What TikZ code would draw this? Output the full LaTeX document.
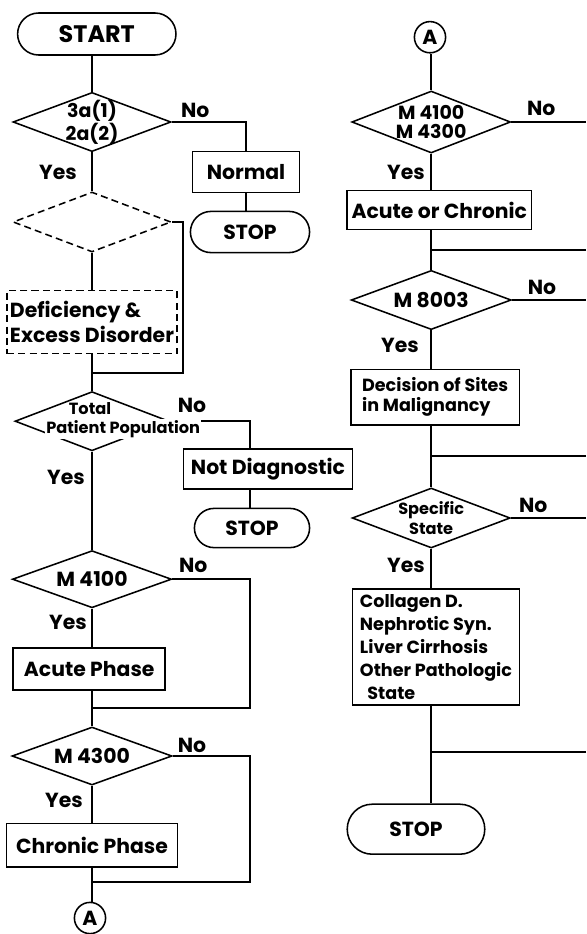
\documentclass[tikz,border=0pt]{standalone}
\usepackage{fontspec}
\setmainfont{Poppins}
\usepackage{tikz}
\usetikzlibrary{shapes.geometric,shapes.misc,positioning,calc}
\tikzset{
  fline/.style={line width=1.1pt},
  fbox/.style={draw, line width=1.1pt, inner sep=2pt, font=\fontsize{14.5}{18}\selectfont\bfseries},
  fsmall/.style={font=\fontsize{11.5}{14}\selectfont\bfseries},
  fterm/.style={rounded rectangle, draw, line width=1.1pt, inner sep=2pt,
                font=\fontsize{14.5}{18}\selectfont\bfseries},
  fdec/.style={diamond, draw, line width=1.1pt, inner sep=0pt, align=center, aspect=2.6,
               font=\fontsize{14.5}{15}\selectfont\bfseries},
  fdash/.style={dash pattern=on 5pt off 3pt},
  flbl/.style={font=\fontsize{14.5}{18}\selectfont\bfseries},
  fcon/.style={circle, draw, line width=1.1pt, minimum size=0.78cm, inner sep=0pt,
               font=\fontsize{14.5}{18}\selectfont\bfseries},
}
\begin{document}
\begin{tikzpicture}[x=1cm,y=1cm]
  \useasboundingbox (0,0) rectangle (14.65,-23.35);

  % left column
  \node[fterm, minimum width=4.1cm, minimum height=1.05cm, font=\fontsize{17}{20}\selectfont\bfseries] (start) at (2.42,-0.85) {START};
  \node[fdec, aspect=2.67, inner sep=-2pt, minimum width=3.95cm, minimum height=1.48cm,
        font=\fontsize{13.5}{13.5}\selectfont\bfseries] (d3a) at (2.3,-3.05) {3a(1)\\2a(2)};
  \node[fbox, minimum width=2.68cm, minimum height=1.03cm] (normal) at (6.15,-4.3) {Normal};
  \node[fterm, minimum width=3.12cm, minimum height=1.03cm] (stopa) at (6.25,-5.8) {STOP};
  \node[fdec, fdash, aspect=2.63, minimum width=3.95cm, minimum height=1.5cm] (ddash) at (2.3,-5.55) {};
  \node[fbox, fdash, align=left, minimum width=4.22cm, minimum height=1.58cm] (defic) at (2.3,-8.05) {Deficiency \&\\Excess Disorder};
  \coordinate (ra) at (4.58,-9.33);
  \coordinate (ja) at (2.3,-9.33);

  \node[fdec, minimum width=3.85cm, minimum height=1.48cm] (tot) at (2.3,-10.53) {};
  \coordinate (nd) at (6.25,-10.53);
  \node[fbox, minimum width=4.22cm, minimum height=1.0cm] (notdiag) at (6.7,-11.73) {Not Diagnostic};
  \node[fterm, minimum width=3.02cm, minimum height=0.98cm] (stopb) at (6.3,-13.2) {STOP};

  \node[fdec, minimum width=3.98cm, minimum height=1.43cm] (m41) at (2.3,-14.48) {M 4100};
  \node[fbox, minimum width=3.8cm, minimum height=1.05cm] (acute) at (2.23,-16.73) {Acute Phase};
  \coordinate (rb) at (6.25,-17.7);
  \coordinate (jb) at (2.3,-17.7);

  \node[fdec, minimum width=4.0cm, minimum height=1.45cm] (m43) at (2.3,-18.9) {M 4300};
  \node[fbox, minimum width=4.28cm, minimum height=1.08cm] (chronic) at (2.3,-21.13) {Chronic Phase};
  \coordinate (rc) at (6.25,-22.05);
  \coordinate (jc) at (2.3,-22.05);
  \node[fcon] (cona) at (2.25,-22.95) {A};

  \draw[fline] (start.south -| d3a.north) -- (d3a.north);
  \draw[fline] (d3a.east) -| (normal.north);
  \draw[fline] (normal.south) -- (normal.south |- stopa.north);
  \draw[fline] (d3a.south) -- (ddash.north);
  \draw[fline] (ddash.south) -- (defic.north);
  \draw[fline] (ddash.east) -| (ra) -- (ja);
  \draw[fline] (defic.south) -- (tot.north);
  \draw[fline] (tot.east) -- (nd) -- (nd |- notdiag.north);
  \draw[fline] (nd |- notdiag.south) -- (nd |- stopb.north);
  \draw[fline] (tot.south) -- (m41.north);
  \draw[fline] (m41.south) -- (m41.south |- acute.north);
  \draw[fline] (m41.east) -| (rb) -- (jb);
  \draw[fline] (acute.south -| m41.south) -- (m43.north);
  \draw[fline] (m43.south) -- (chronic.north);
  \draw[fline] (m43.east) -| (rc) -- (jc);
  \draw[fline] (chronic.south) -- (chronic.south |- cona.north);

  % text over the diamond
  \node[fsmall, inner sep=0pt] (tota) at (2.25,-10.22) {Total};
  \node[fsmall, fill=white, inner sep=1pt] (totb) at (3.08,-10.72) {Patient Population};

  \node[flbl] (y1) at (1.45,-4.3) {Yes};
  \node[flbl] (n1) at (4.88,-2.75) {No};
  \node[flbl] (y3) at (1.65,-11.93) {Yes};
  \node[flbl] (n3) at (4.8,-10.13) {No};
  \node[flbl] (y4) at (1.7,-15.55) {Yes};
  \node[flbl] (n4) at (4.83,-14.13) {No};
  \node[flbl] (y5) at (1.6,-20.0) {Yes};
  \node[flbl] (n5) at (4.8,-18.63) {No};

  % right column
  \node[fcon] (conb) at (10.75,-0.93) {A};
  \node[fdec, minimum width=3.95cm, minimum height=1.55cm, font=\fontsize{13.5}{14}\selectfont\bfseries] (dm) at (10.78,-3.05) {M 4100\\M 4300};
  \coordinate (ea) at (14.65,-3.05);
  \node[fbox, minimum width=4.62cm, minimum height=0.98cm] (acch) at (10.98,-5.25) {Acute or Chronic};
  \coordinate (eb) at (14.65,-6.25);
  \node[fdec, minimum width=4.0cm, minimum height=1.48cm] (m80) at (10.78,-7.5) {M 8003};
  \coordinate (ec) at (14.65,-7.5);
  \node[fbox, align=left, minimum width=4.22cm, minimum height=1.38cm,
        font=\fontsize{12.5}{14}\selectfont\bfseries] (decis) at (10.88,-9.93) {Decision of Sites\\in Malignancy};
  \coordinate (ed) at (14.65,-11.4);
  \node[fdec, fsmall, minimum width=3.95cm, minimum height=1.5cm] (spec) at (10.78,-12.95) {Specific\\State};
  \coordinate (ee) at (14.65,-12.95);
  \node[fbox, align=left, minimum width=4.18cm, minimum height=2.9cm,
        font=\fontsize{12.5}{16.3}\selectfont\bfseries] (patho) at (10.9,-16.18)
       {Collagen D.\\Nephrotic Syn.\\Liver Cirrhosis\\Other Pathologic\\\ \ State};
  \coordinate (ef) at (14.65,-18.8);
  \node[fterm, minimum width=3.58cm, minimum height=1.25cm] (stopc) at (10.4,-20.73) {STOP};

  \draw[fline] (conb.south -| dm.north) -- (dm.north);
  \draw[fline] (dm.east) -- (ea);
  \draw[fline] (dm.south) -- (dm.south |- acch.north);
  \draw[fline] (acch.south -| dm.south) -- (m80.north);
  \draw[fline] (eb) -- (eb -| m80.north);
  \draw[fline] (m80.east) -- (ec);
  \draw[fline] (m80.south) -- (m80.south |- decis.north);
  \draw[fline] (decis.south -| m80.south) -- (spec.north);
  \draw[fline] (ed) -- (ed -| spec.north);
  \draw[fline] (spec.east) -- (ee);
  \draw[fline] (spec.south) -- (spec.south |- patho.north);
  \draw[fline] (patho.south -| spec.south) -- (stopc.north -| spec.south);
  \draw[fline] (ef) -- (ef -| spec.south);

  \node[flbl] (y6) at (10.15,-4.3) {Yes};
  \node[flbl] (n6) at (13.53,-2.7) {No};
  \node[flbl] (y7) at (10.0,-8.63) {Yes};
  \node[flbl] (n7) at (13.55,-7.18) {No};
  \node[flbl] (y8) at (10.15,-14.13) {Yes};
  \node[flbl] (n8) at (13.33,-12.63) {No};

\end{tikzpicture}
\end{document}
